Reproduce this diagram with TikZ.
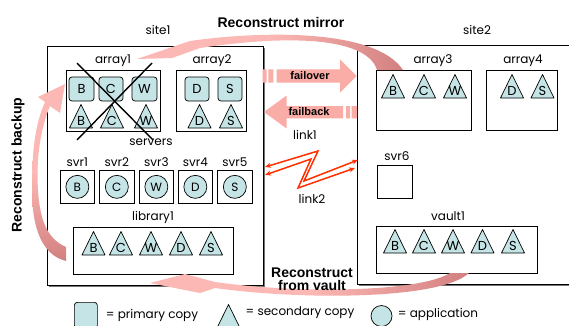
\documentclass[tikz,border=0pt]{standalone}
\usepackage{fontspec}
\setmainfont{Poppins}
\newfontfamily\headfont{Liberation Sans}
\usetikzlibrary{arrows.meta,shadows}

\definecolor{cellfill}{RGB}{197,228,230}
\definecolor{swooshlight}{RGB}{252,184,180}
\definecolor{swooshdark}{RGB}{210,128,128}
\definecolor{flowpink}{RGB}{250,172,166}
\definecolor{linkred}{RGB}{255,48,0}

\tikzset{
  site/.style={draw, line width=0.8pt, fill=white, inner sep=0pt, anchor=north west,
    drop shadow={shadow xshift=1.6pt, shadow yshift=-1.6pt, fill=black!55, opacity=1}},
  box/.style={draw, line width=0.7pt, fill=white, inner sep=0pt, anchor=north west,
    drop shadow={shadow xshift=0.8pt, shadow yshift=-0.8pt, fill=black!50, opacity=1}},
  lbl/.style={font=\fontsize{12}{14}\selectfont, inner sep=0pt},
  lett/.style={font=\fontsize{13}{14}\selectfont, inner sep=0pt},
  prim/.style={draw, line width=0.7pt, fill=cellfill, rounded corners=3pt,
    minimum width=24pt, minimum height=24pt, inner sep=0pt, font=\fontsize{13}{14}\selectfont},
  app/.style={draw, line width=0.7pt, fill=cellfill, circle, minimum size=23pt,
    inner sep=0pt, font=\fontsize{12}{14}\selectfont},
  sec/.pic={\draw[fill=cellfill, line width=0.7pt, line join=round]
      (-11.5,0) -- (0,-23.5) -- (11.5,0) -- cycle;
    \node[lett] (-l) at (0,-7.5) {#1};},
  head/.style={font=\headfont\bfseries\fontsize{14}{15.5}\selectfont, inner sep=0pt},
  flowtxt/.style={font=\headfont\bfseries\fontsize{11}{12}\selectfont, inner sep=0pt},
  link/.style={draw=linkred, line width=1.5pt, line join=miter,
    {Stealth[length=6pt,width=5pt]}-{Stealth[length=6pt,width=5pt]}},
  cross/.style={line width=1.4pt, black}
}

\begin{document}
\begin{tikzpicture}[x=1pt,y=-1pt]
\clip (0,0) rectangle (569,325);
\fill[white] (0,0) rectangle (569,325);

% ---------- sites ----------
\node[site, minimum width=216pt, minimum height=239pt] (site1) at (47,46) {};
\node[site, minimum width=230pt, minimum height=239pt] (site2) at (357,45) {};
\node[lbl] (site1l) at (158,30) {site1};
\node[lbl] (site2l) at (477,30) {site2};

% ---------- site1: arrays ----------
\node[box, minimum width=94pt, minimum height=61pt] (array1) at (66,70) {};
\node[lbl] (array1l) at (113,61) {array1};
\node[prim, minimum width=25pt] (a1B) at (81.5,89) {B};
\node[prim] (a1C) at (111,89) {C};
\node[prim, minimum width=25pt] (a1W) at (144.5,89) {W};
\pic (a1tB) at (81,128) {sec=B};
\pic (a1tC) at (112,128) {sec=C};
\pic (a1tW) at (146,128) {sec=W};

\node[box, minimum width=70pt, minimum height=61pt] (array2) at (176,70) {};
\node[lbl] (array2l) at (212,61) {array2};
\node[prim] (a2D) at (197,89) {D};
\node[prim] (a2S) at (230,89) {S};
\pic (a2tD) at (199.5,128) {sec=D};
\pic (a2tS) at (231,128) {sec=S};

% failed array
\coordinate (x1a) at (77,63);  \coordinate (x1b) at (153,140);
\coordinate (x2a) at (152,63); \coordinate (x2b) at (77,140);
\draw[cross] (x1a) -- (x1b);
\draw[cross] (x2a) -- (x2b);
\node[lbl] (servers) at (151,142) {servers};

% ---------- site1: servers ----------
\foreach \n/\x/\w/\a in {1/60/34/B, 2/99/35/C, 3/139/34/W, 4/178/34/D, 5/217/35/S}{
  \node[box, minimum width=\w pt, minimum height=33pt] (svr\n) at (\x,170) {};
  \node[app] (app\n) at (svr\n.center) {\a};
  \node[lbl] (svr\n l) at ([yshift=8pt]svr\n.north) {svr\n};
}

% ---------- site1: library ----------
\node[box, minimum width=160pt, minimum height=47pt] (library1) at (73,227) {};
\node[lbl] (library1l) at (153,217) {library1};
\pic (l1B) at (93.5,255) {sec=B};
\pic (l1C) at (121,255) {sec=C};
\pic (l1W) at (151,255) {sec=W};
\pic (l1D) at (181,255) {sec=D};
\pic (l1S) at (211,255) {sec=S};

% ---------- site2 ----------
\node[box, minimum width=95pt, minimum height=60pt] (array3) at (376,70) {};
\node[lbl] (array3l) at (433,61) {array3};
\pic (a3B) at (393,98) {sec=B};
\pic (a3C) at (424,98) {sec=C};
\pic (a3W) at (455,98) {sec=W};

\node[box, minimum width=71pt, minimum height=60pt] (array4) at (486,70) {};
\node[lbl] (array4l) at (523,61) {array4};
\pic (a4D) at (512,98) {sec=D};
\pic (a4S) at (542.5,98) {sec=S};

\node[box, minimum width=35pt, minimum height=33pt] (svr6) at (377,165) {};
\node[lbl] (svr6l) at (397,156) {svr6};

\node[box, minimum width=161pt, minimum height=47pt] (vault1) at (376,226) {};
\node[lbl] (vault1l) at (448,216) {vault1};
\pic (v1B) at (395,253) {sec=B};
\pic (v1C) at (424,253) {sec=C};
\pic (v1W) at (453,253) {sec=W};
\pic (v1D) at (482.5,253) {sec=D};
\pic (v1S) at (513,253) {sec=S};

% ---------- failover / failback ----------
\fill[flowpink] (262.7,69.3) rectangle (266.7,82.7)
                (268.3,69.3) rectangle (273.3,82.7);
\fill[flowpink] (276.7,69.3) -- (340,69.3) -- (340,59.5) -- (356.7,76)
                -- (340,92.5) -- (340,82.7) -- (276.7,82.7) -- cycle;
\node[flowtxt] (failover) at (310,76) {failover};

\fill[flowpink] (346,106) rectangle (350,118.3)
                (351.7,106) rectangle (357,118.3);
\fill[flowpink] (343,106) -- (286.7,106) -- (286.7,95.5) -- (264,112)
                -- (286.7,128.5) -- (286.7,118.3) -- (343,118.3) -- cycle;
\node[flowtxt] (failback) at (309,112) {failback};

% ---------- links ----------
\node[lbl] (link1) at (305,135) {link1};
\node[lbl] (link2) at (312,199) {link2};
\draw[link] (265,167) -- (318,151) -- (304,181) -- (358,160);
\draw[link] (265,175) -- (311,159) -- (298,188) -- (355,168);

% ---------- reconstruction swooshes ----------
% mirror: array3 -> array1
\shade[left color=swooshlight, right color=swooshdark, middle color=swooshlight]
  (137,59) -- (190,41)
  .. controls (260,31) and (375,28) .. (403,70)
  -- (377,70)
  .. controls (368,40) and (300,33) .. (200,48)
  -- (172,58) -- cycle;
\node[head] (mirror) at (281,22) {Reconstruct mirror};

% backup: library1 -> array1
\shade[top color=swooshlight, bottom color=swooshdark, middle color=swooshlight]
  (65,84) -- (60,113) -- (50,106)
  .. controls (40,130) and (36,160) .. (38,190)
  .. controls (40,225) and (50,240) .. (66,247)
  -- (66,261)
  .. controls (42,255) and (32,228) .. (32,190)
  .. controls (32,150) and (35,125) .. (45,102)
  -- (38,97) -- cycle;
\node[head, rotate=90] (backup) at (18,165) {Reconstruct backup};

% vault: vault1 -> library1
\shade[left color=swooshlight, right color=swooshdark, middle color=swooshlight]
  (150,283) -- (185,274) -- (215,282)
  .. controls (300,294) and (420,292) .. (450,273)
  -- (469,273)
  .. controls (440,300) and (300,300) .. (215,288)
  -- (200,293) -- cycle;
\node[head, align=center] (fromvault) at (312,279)
  {Reconstruct\\[-2pt]from vault};

% ---------- legend ----------
\node[prim, minimum width=23pt, minimum height=26pt, anchor=north west] (legP) at (74,302) {};
\node[lbl] (legPt) at (152,315) {= primary copy};
\pic (legS) at (228.5,328) {sec={}};
\node[lbl] (legSt) at (300,313) {= secondary copy};
\node[app, minimum size=21pt] (legA) at (381.5,316) {};
\node[lbl] (legAt) at (438,314) {= application};
\end{tikzpicture}
\end{document}
